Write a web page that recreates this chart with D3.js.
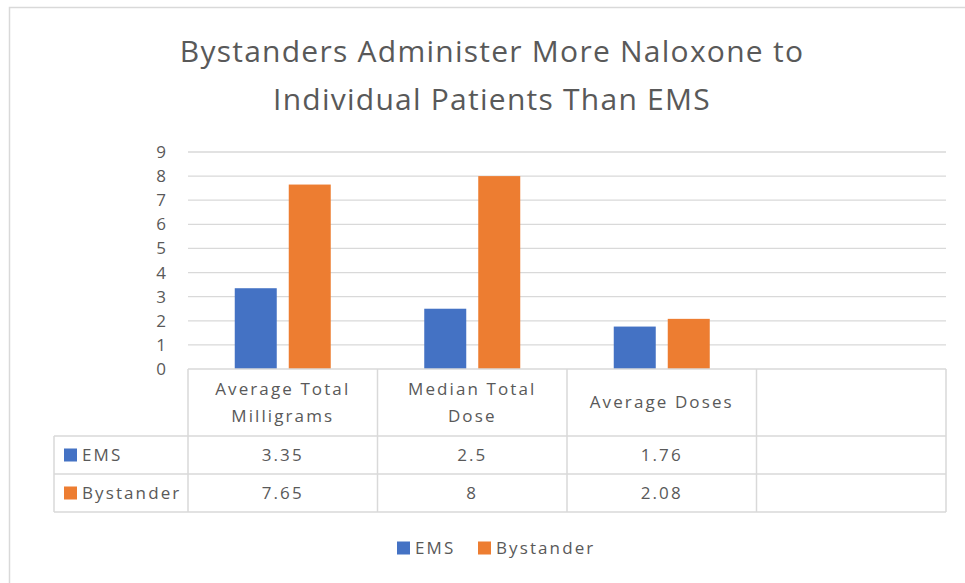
<!DOCTYPE html>
<html>
<head>
<meta charset="utf-8">
<script src="https://cdn.jsdelivr.net/npm/d3@7"></script>
<style>
  body { margin: 0; background: #fff; }
  text { font-family: "Open Sans", sans-serif; fill: #595959; }
</style>
</head>
<body>
<div id="chart"></div>
<script>
// chart data
const categories = ["Average Total Milligrams", "Median Total Dose", "Average Doses", ""];
const seriesNames = ["EMS", "Bystander"];
const emsValues = [3.35, 2.5, 1.76, null];
const bystanderValues = [7.65, 8, 2.08, null];
const yTicks = [0, 1, 2, 3, 4, 5, 6, 7, 8, 9];
const titleLines = ["Bystanders Administer More Naloxone to", "Individual Patients Than EMS"];

const seriesValues = [emsValues, bystanderValues];
const colors = ["#4472C4", "#ED7D31"];

const width = 965, height = 583;
const plot = {left: 188, right: 946, top: 152, bottom: 369};
const rowH = [67, 38, 38]; // header row, then one per series
const tableLeft = 54;
const fs = "17px", ls = "2.1px";

const svg = d3.select("#chart").append("svg")
  .attr("width", width)
  .attr("height", height);

// outer chart border
svg.append("rect")
  .attr("x", 9.5).attr("y", 7.5)
  .attr("width", 1000).attr("height", 1000)
  .attr("fill", "none")
  .attr("stroke", "#d9d9d9")
  .attr("stroke-width", 1.5);

// title
svg.append("g").selectAll("text")
  .data(titleLines)
  .enter().append("text")
  .attr("x", 492)
  .attr("y", (d, i) => 62 + i * 48)
  .attr("text-anchor", "middle")
  .style("font-size", "30px")
  .style("letter-spacing", "1.25px")
  .text(d => d);

const x = d3.scaleBand()
  .domain(categories)
  .range([plot.left, plot.right])
  .padding(0);

const groupPad = (x.bandwidth() - 96) / 2;
const x1 = d3.scaleBand()
  .domain(seriesNames)
  .range([groupPad, x.bandwidth() - groupPad])
  .paddingInner(12 / 54)
  .paddingOuter(0);

const y = d3.scaleLinear()
  .domain([0, 9])
  .range([plot.bottom, plot.top]);

// gridlines
svg.append("g")
  .selectAll("line")
  .data(yTicks.slice(1))
  .enter().append("line")
  .attr("x1", plot.left).attr("x2", plot.right)
  .attr("y1", d => y(d)).attr("y2", d => y(d))
  .attr("stroke", "#d9d9d9")
  .attr("stroke-width", 1.3);

// y axis labels
const yAxis = svg.append("g")
  .attr("transform", `translate(${plot.left - 22},0)`)
  .call(d3.axisLeft(y).tickValues(yTicks).tickSize(0).tickPadding(0));
yAxis.select(".domain").remove();
yAxis.selectAll("text")
  .style("font-family", "'Open Sans', sans-serif")
  .style("font-size", fs)
  .attr("fill", "#595959");

// bars
const bars = [];
categories.forEach((c, i) => {
  seriesNames.forEach((s, j) => {
    if (seriesValues[j][i] != null) bars.push({cat: c, series: s, value: seriesValues[j][i], color: colors[j]});
  });
});

svg.append("g")
  .selectAll("rect")
  .data(bars)
  .enter().append("rect")
  .attr("x", d => x(d.cat) + x1(d.series))
  .attr("width", x1.bandwidth())
  .attr("y", d => y(d.value))
  .attr("height", d => y(0) - y(d.value))
  .attr("fill", d => d.color);

// data table
const table = svg.append("g").attr("stroke", "#d9d9d9").attr("stroke-width", 1.5);
const headBottom = plot.bottom + rowH[0];
const tableBottom = headBottom + rowH[1] + rowH[2];

table.append("line")
  .attr("x1", plot.left).attr("x2", plot.right)
  .attr("y1", plot.bottom).attr("y2", plot.bottom);
[headBottom, headBottom + rowH[1], tableBottom].forEach(yy => {
  table.append("line")
    .attr("x1", tableLeft).attr("x2", plot.right)
    .attr("y1", yy).attr("y2", yy);
});
table.append("line")
  .attr("x1", tableLeft).attr("x2", tableLeft)
  .attr("y1", headBottom).attr("y2", tableBottom);
categories.forEach(c => {
  table.append("line")
    .attr("x1", x(c)).attr("x2", x(c))
    .attr("y1", plot.bottom).attr("y2", tableBottom);
});
table.append("line")
  .attr("x1", plot.right).attr("x2", plot.right)
  .attr("y1", plot.bottom).attr("y2", tableBottom);

// header labels, wrapped to fit the column
function wrapLines(text, maxW) {
  const words = text.split(" ").filter(w => w);
  const probe = svg.append("text").style("font-size", fs).style("letter-spacing", ls);
  const lines = [];
  let line = [];
  words.forEach(w => {
    line.push(w);
    probe.text(line.join(" "));
    if (probe.node().getComputedTextLength() > maxW && line.length > 1) {
      line.pop();
      lines.push(line.join(" "));
      line = [w];
    }
  });
  if (line.length) lines.push(line.join(" "));
  probe.remove();
  return lines;
}

categories.forEach(c => {
  const lines = wrapLines(c, 155);
  const cy = plot.bottom + rowH[0] / 2;
  svg.append("text")
    .attr("x", x(c) + x.bandwidth() / 2)
    .attr("y", cy - (lines.length - 1) * 13.5)
    .attr("text-anchor", "middle")
    .style("font-size", fs)
    .style("letter-spacing", ls)
    .selectAll("tspan")
    .data(lines)
    .enter().append("tspan")
    .attr("x", x(c) + x.bandwidth() / 2)
    .attr("dy", (d, i) => i === 0 ? "0.35em" : 27)
    .text(d => d);
});

// series rows
seriesNames.forEach((s, j) => {
  const cy = headBottom + rowH[1] * j + rowH[1] / 2;
  svg.append("rect")
    .attr("x", 64).attr("y", cy - 6.5)
    .attr("width", 13).attr("height", 13)
    .attr("fill", colors[j]);
  svg.append("text")
    .attr("x", 82).attr("y", cy)
    .attr("dy", "0.35em")
    .style("font-size", fs)
    .style("letter-spacing", ls)
    .text(s);
  categories.forEach((c, i) => {
    if (seriesValues[j][i] == null) return;
    svg.append("text")
      .attr("x", x(c) + x.bandwidth() / 2)
      .attr("y", cy)
      .attr("dy", "0.35em")
      .attr("text-anchor", "middle")
      .style("font-size", fs)
      .style("letter-spacing", ls)
      .text(seriesValues[j][i]);
  });
});

// legend
const legendPos = [397, 478];
const legend = svg.append("g")
  .selectAll("g")
  .data(seriesNames)
  .enter().append("g")
  .attr("transform", (d, i) => `translate(${legendPos[i]},548)`);
legend.append("rect")
  .attr("y", -6.5).attr("width", 13).attr("height", 13)
  .attr("fill", (d, i) => colors[i]);
legend.append("text")
  .attr("x", 18).attr("dy", "0.35em")
  .style("font-size", fs)
  .style("letter-spacing", ls)
  .text(d => d);
</script>
</body>
</html>
